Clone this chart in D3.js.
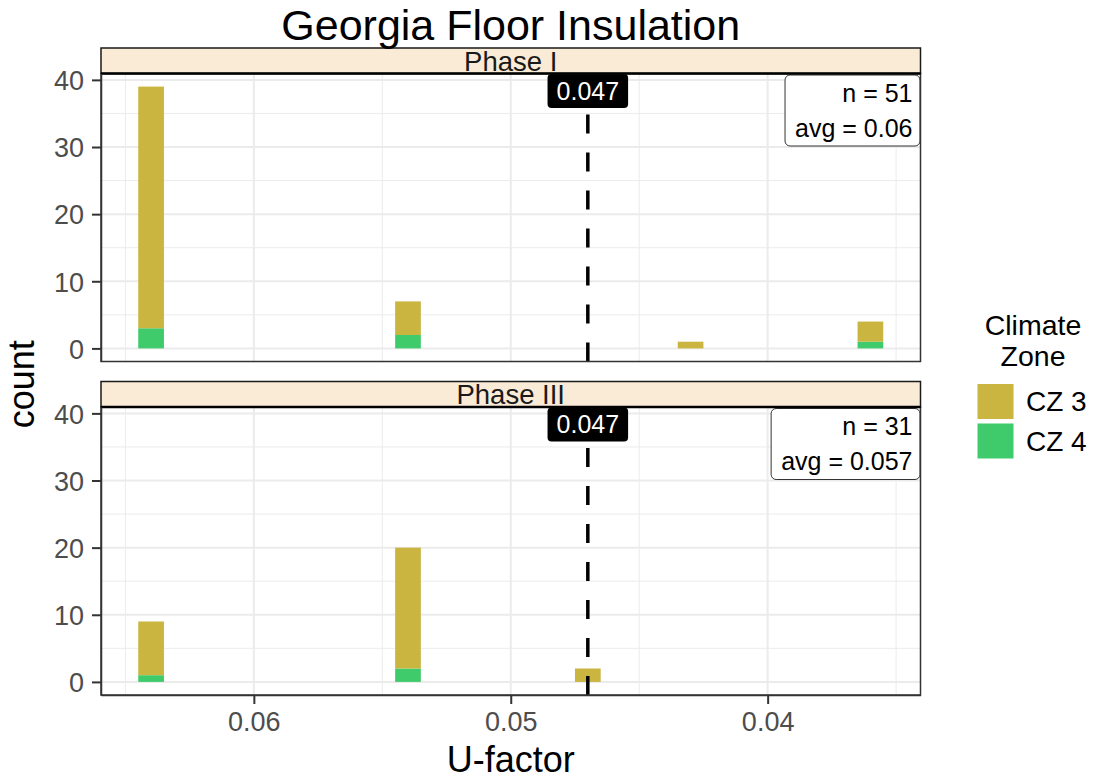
<!DOCTYPE html>
<html>
<head>
<meta charset="utf-8">
<script src="https://cdn.jsdelivr.net/npm/d3@7"></script>
<style>
  html, body { margin: 0; padding: 0; background: #ffffff; }
  svg { display: block; font-family: "Liberation Sans", Arial, Helvetica, sans-serif; }
</style>
</head>
<body>
<svg id="chart" width="1096" height="779"></svg>
<script>
// ---- data ----
const title = "Georgia Floor Insulation";
const phases = ["Phase I", "Phase III"];
const uValues = [0.064, 0.054, 0.047, 0.043, 0.036];     // bin centres (U-factor)
const zones = ["CZ 3", "CZ 4"];
const cz3Counts = [[36, 5, 0, 1, 3], [8, 18, 2, 0, 0]];   // per phase
const cz4Counts = [[3, 2, 0, 0, 1], [1, 2, 0, 0, 0]];     // per phase
const codeValue = 0.047;
const codeLabel = "0.047";
const nLabels = ["n = 51", "n = 31"];
const avgLabels = ["avg = 0.06", "avg = 0.057"];
const xTicks = [0.06, 0.05, 0.04];
const xMinor = [0.065, 0.055, 0.045, 0.035];
const yTicks = [0, 10, 20, 30, 40];
const yMinor = [5, 15, 25, 35];
const binWidth = 0.001;
const zoneColors = ["#C9B540", "#3FCB6B"];

// ---- layout ----
const svg = d3.select("#chart");
const panelLeft = 101, panelRight = 920.5;
const panelTops = [73.5, 407];
const panelH = 288;
const stripH = 25.5;

const lo = d3.min(uValues) - binWidth / 2, hi = d3.max(uValues) + binWidth / 2;
const padX = (hi - lo) * 0.05;
const x = d3.scaleLinear().domain([hi + padX, lo - padX]).range([panelLeft, panelRight]);

const maxCount = d3.max(phases.map((p, i) => d3.max(uValues.map((u, j) => cz3Counts[i][j] + cz4Counts[i][j]))));
const padY = maxCount * 0.05;

const textDark = "#1A1A1A", axisGrey = "#4D4D4D";

phases.forEach((phase, pi) => {
  const top = panelTops[pi];
  const y = d3.scaleLinear().domain([-padY, maxCount + padY]).range([top + panelH, top]);
  const g = svg.append("g");

  // panel background
  g.append("rect").attr("x", panelLeft).attr("y", top).attr("width", panelRight - panelLeft).attr("height", panelH).attr("fill", "#fff");

  // grid
  g.selectAll(".xminor").data(xMinor).join("line")
    .attr("x1", d => x(d)).attr("x2", d => x(d)).attr("y1", top).attr("y2", top + panelH)
    .attr("stroke", "#EBEBEB").attr("stroke-width", 1);
  g.selectAll(".yminor").data(yMinor).join("line")
    .attr("y1", d => y(d)).attr("y2", d => y(d)).attr("x1", panelLeft).attr("x2", panelRight)
    .attr("stroke", "#EBEBEB").attr("stroke-width", 1);
  g.selectAll(".xmajor").data(xTicks).join("line")
    .attr("x1", d => x(d)).attr("x2", d => x(d)).attr("y1", top).attr("y2", top + panelH)
    .attr("stroke", "#EBEBEB").attr("stroke-width", 2);
  g.selectAll(".ymajor").data(yTicks).join("line")
    .attr("y1", d => y(d)).attr("y2", d => y(d)).attr("x1", panelLeft).attr("x2", panelRight)
    .attr("stroke", "#EBEBEB").attr("stroke-width", 2);

  // stacked bars
  const rows = uValues.map((u, j) => ({u, c4: cz4Counts[pi][j], c3: cz3Counts[pi][j]}));
  const bw = Math.abs(x(0) - x(binWidth));
  g.selectAll(".b4").data(rows.filter(r => r.c4 > 0)).join("rect")
    .attr("x", d => x(d.u) - bw / 2).attr("width", bw)
    .attr("y", d => y(d.c4)).attr("height", d => y(0) - y(d.c4))
    .attr("fill", zoneColors[1]);
  g.selectAll(".b3").data(rows.filter(r => r.c3 > 0)).join("rect")
    .attr("x", d => x(d.u) - bw / 2).attr("width", bw)
    .attr("y", d => y(d.c4 + d.c3)).attr("height", d => y(d.c4) - y(d.c4 + d.c3))
    .attr("fill", zoneColors[0]);

  // dashed code line
  g.append("line")
    .attr("x1", x(codeValue)).attr("x2", x(codeValue))
    .attr("y1", top + panelH).attr("y2", top)
    .attr("stroke", "#000").attr("stroke-width", 3.5).attr("stroke-dasharray", "19,19");

  // code label
  const lab = g.append("g");
  const lt = lab.append("text").text(codeLabel)
    .attr("x", x(codeValue)).attr("y", top + 26)
    .attr("text-anchor", "middle").attr("font-size", 25).attr("fill", "#fff");
  const lw = lt.node().getComputedTextLength();
  lab.insert("rect", "text")
    .attr("x", x(codeValue) - lw / 2 - 9).attr("y", top + 0.5)
    .attr("width", lw + 18).attr("height", 34).attr("rx", 4).attr("fill", "#000");

  // n / avg box
  const box = g.append("g");
  const tx = panelRight - 8;
  const t1 = box.append("text").text(nLabels[pi]).attr("x", tx).attr("y", top + 28)
    .attr("text-anchor", "end").attr("font-size", 25).attr("fill", "#000");
  const t2 = box.append("text").text(avgLabels[pi]).attr("x", tx).attr("y", top + 63)
    .attr("text-anchor", "end").attr("font-size", 25).attr("fill", "#000");
  const bwid = Math.max(t1.node().getComputedTextLength(), t2.node().getComputedTextLength()) + 8 + 10;
  box.insert("rect", "text")
    .attr("x", panelRight - bwid).attr("y", top + 1.5)
    .attr("width", bwid - 0.5).attr("height", 71).attr("rx", 5)
    .attr("fill", "#fff").attr("stroke", "#333").attr("stroke-width", 1);

  // panel border
  g.append("rect").attr("x", panelLeft).attr("y", top).attr("width", panelRight - panelLeft).attr("height", panelH)
    .attr("fill", "none").attr("stroke", "#333").attr("stroke-width", 1.5);

  // strip
  g.append("rect").attr("x", panelLeft).attr("y", top - stripH).attr("width", panelRight - panelLeft).attr("height", stripH)
    .attr("fill", "#FAEBD7").attr("stroke", "#1A1A1A").attr("stroke-width", 1.5);
  g.append("line").attr("x1", panelLeft).attr("x2", panelRight).attr("y1", top).attr("y2", top)
    .attr("stroke", "#000").attr("stroke-width", 2.5);
  g.append("text").text(phase).attr("x", (panelLeft + panelRight) / 2).attr("y", top - 3)
    .attr("text-anchor", "middle").attr("font-size", 27.5).attr("fill", textDark);

  // y axis
  const yAxis = d3.axisLeft(y).tickValues(yTicks).tickSize(9).tickSizeOuter(0).tickPadding(8);
  const ya = g.append("g").attr("transform", `translate(${panelLeft},0)`).call(yAxis);
  ya.select(".domain").attr("stroke", "#333").attr("stroke-width", 1.5);
  ya.selectAll(".tick line").attr("stroke", "#333").attr("stroke-width", 2);
  ya.selectAll(".tick text").attr("font-size", 27).attr("fill", axisGrey)
    .attr("font-family", "Liberation Sans, Arial, sans-serif").attr("dy", "0.36em");

  // x axis only on bottom panel
  if (pi === phases.length - 1) {
    const xAxis = d3.axisBottom(x).tickValues(xTicks).tickFormat(d3.format(".2f")).tickSize(9).tickSizeOuter(0).tickPadding(8);
    const xa = g.append("g").attr("transform", `translate(0,${top + panelH})`).call(xAxis);
    xa.select(".domain").attr("stroke", "#333").attr("stroke-width", 1.5);
    xa.selectAll(".tick line").attr("stroke", "#333").attr("stroke-width", 2);
    xa.selectAll(".tick text").attr("font-size", 27).attr("fill", axisGrey)
      .attr("font-family", "Liberation Sans, Arial, sans-serif");
  }
});

// title
svg.append("text").text(title).attr("x", (panelLeft + panelRight) / 2).attr("y", 40)
  .attr("text-anchor", "middle").attr("font-size", 43).attr("fill", "#000");

// axis titles
svg.append("text").text("U-factor").attr("x", (panelLeft + panelRight) / 2).attr("y", 772)
  .attr("text-anchor", "middle").attr("font-size", 36).attr("fill", "#000");
svg.append("text").text("count")
  .attr("transform", `translate(34,${(panelTops[0] + panelTops[1] + panelH) / 2}) rotate(-90)`)
  .attr("text-anchor", "middle").attr("font-size", 36).attr("fill", "#000");

// legend
const lg = svg.append("g");
lg.append("text").text("Climate").attr("x", 1033).attr("y", 335).attr("text-anchor", "middle").attr("font-size", 28.5).attr("fill", "#000");
lg.append("text").text("Zone").attr("x", 1033).attr("y", 366).attr("text-anchor", "middle").attr("font-size", 28.5).attr("fill", "#000");
zones.forEach((z, i) => {
  const ky = 384 + i * 39.5;
  lg.append("rect").attr("x", 977.5).attr("y", ky).attr("width", 36).attr("height", 35).attr("fill", zoneColors[i]);
  lg.append("text").text(z).attr("x", 1026).attr("y", ky + 27).attr("font-size", 28).attr("fill", "#000");
});
</script>
</body>
</html>
